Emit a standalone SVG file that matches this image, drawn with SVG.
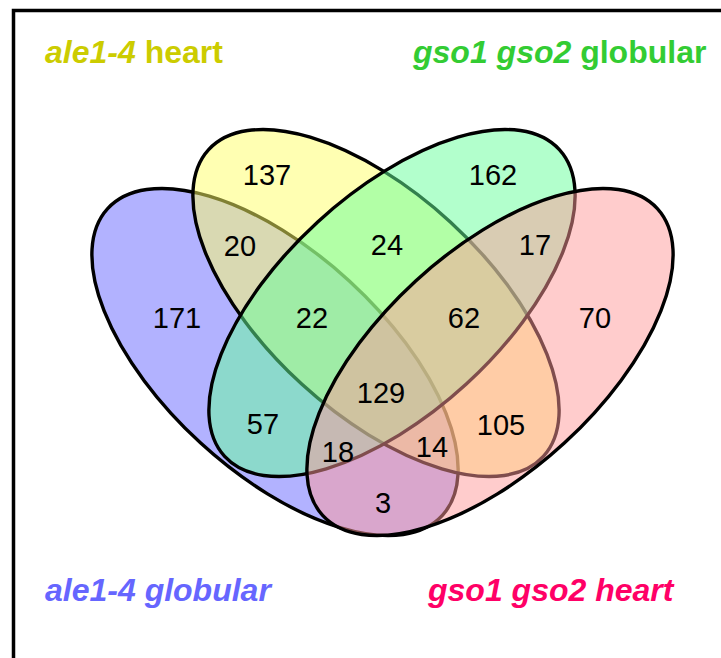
<svg xmlns="http://www.w3.org/2000/svg" width="721" height="658" viewBox="0 0 721 658">
<style>
.set{fill-opacity:0.5;stroke:#000;stroke-width:3.4}
.num{font-family:"Liberation Sans",Arial,sans-serif;font-size:29px;fill:#000;text-anchor:middle}
.lab{font-family:"Liberation Sans",Arial,sans-serif;font-size:32px;font-weight:bold}
.it{font-style:italic}
</style>
<rect x="0" y="0" width="721" height="658" fill="#fff"/>
<rect x="13.5" y="10.5" width="900" height="900" fill="none" stroke="#000" stroke-width="3.5"/>
<g id="set-ale1-4-globular"><ellipse class="set" cx="0" cy="0" rx="227" ry="110" fill="#6666FF" transform="translate(275,362) rotate(42.5)"/></g>
<g id="set-ale1-4-heart"><ellipse class="set" cx="0" cy="0" rx="227" ry="110" fill="#FFFF66" transform="translate(376,303) rotate(42.5)"/></g>
<g id="set-gso1-gso2-globular"><ellipse class="set" cx="0" cy="0" rx="227" ry="110" fill="#66FF99" transform="translate(392,303) rotate(-42.5)"/></g>
<g id="set-gso1-gso2-heart"><ellipse class="set" cx="0" cy="0" rx="227" ry="110" fill="#FF9999" transform="translate(490,362) rotate(-42.5)"/></g>
<g id="counts">
<text class="num" x="267" y="185">137</text>
<text class="num" x="493" y="185">162</text>
<text class="num" x="240" y="256">20</text>
<text class="num" x="387" y="255">24</text>
<text class="num" x="535" y="255">17</text>
<text class="num" x="177" y="328">171</text>
<text class="num" x="312" y="328">22</text>
<text class="num" x="464" y="328">62</text>
<text class="num" x="595" y="328">70</text>
<text class="num" x="381" y="403">129</text>
<text class="num" x="263" y="434">57</text>
<text class="num" x="501" y="435">105</text>
<text class="num" x="338" y="462">18</text>
<text class="num" x="432" y="457">14</text>
<text class="num" x="383" y="513">3</text>
</g>
<g id="labels">
<text class="lab" x="45" y="63" fill="#CCCC00"><tspan class="it">ale1-4</tspan> heart</text>
<text class="lab" x="413" y="63" fill="#33CC33"><tspan class="it">gso1 gso2</tspan> globular</text>
<text class="lab it" x="45" y="601" fill="#6666FF">ale1-4 globular</text>
<text class="lab it" x="428" y="601" fill="#FF0066">gso1 gso2 heart</text>
</g>
</svg>
